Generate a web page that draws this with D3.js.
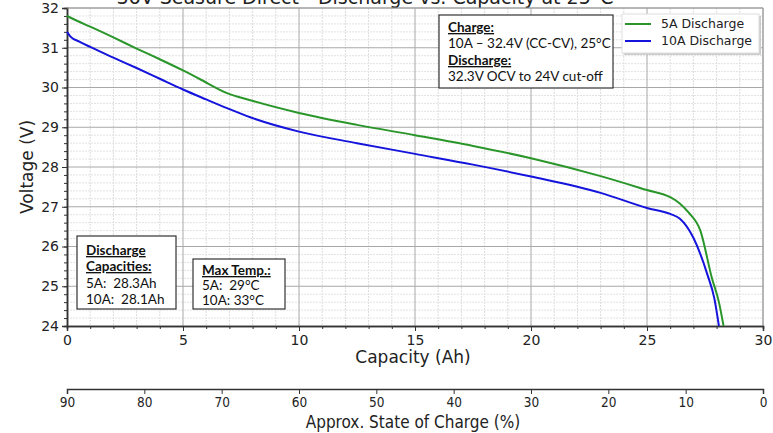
<!DOCTYPE html>
<html>
<head>
<meta charset="utf-8">
<script src="https://cdn.jsdelivr.net/npm/d3@7"></script>
<style>
body { margin:0; background:#fff; }
svg { display:block; }
</style>
</head>
<body>
<script>
// capacity (Ah) vs voltage (V)
var cap5 = [0, 0.5, 1, 2, 3, 4, 5, 5.7, 6.9, 7.9, 10, 12.5, 15, 17.5, 20, 23, 25, 26, 26.4, 26.8, 27.3, 27.8, 28.1, 28.3];
var volt5 = [31.8, 31.66, 31.53, 31.26, 30.98, 30.71, 30.43, 30.22, 29.86, 29.68, 29.36, 29.06, 28.8, 28.53, 28.22, 27.77, 27.42, 27.24, 27.09, 26.85, 26.4, 25.2, 24.6, 24.0];
var cap10 = [0, 0.15, 0.55, 1, 2, 3, 4, 5, 6, 6.9, 7.9, 10, 12.5, 15, 17.5, 20, 23, 25, 26, 26.42, 27.0, 27.6, 27.9, 28.1];
var volt10 = [31.4, 31.28, 31.15, 31.02, 30.75, 30.49, 30.22, 29.95, 29.7, 29.48, 29.25, 28.89, 28.6, 28.33, 28.06, 27.76, 27.35, 26.97, 26.82, 26.7, 26.22, 25.3, 24.7, 24.0];
var seriesNames = ['5A Discharge', '10A Discharge'];
var seriesColors = ['#2a962a', '#1414dc'];
var capTicks = [0, 5, 10, 15, 20, 25, 30];
var voltTicks = [24, 25, 26, 27, 28, 29, 30, 31, 32];
var socTicks = [90, 80, 70, 60, 50, 40, 30, 20, 10, 0];

var W = 773, H = 433;
var pLeft = 67, pRight = 763, pTop = 8, pBottom = 326;

var svg = d3.select("body").append("svg").attr("width", W).attr("height", H);

var x = d3.scaleLinear().domain([0, 30]).range([pLeft, pRight]);
var y = d3.scaleLinear().domain([24, 32]).range([pBottom, pTop]);
var soc = d3.scaleLinear().domain([90, 0]).range([pLeft, pRight]);

// minor grid
svg.append("g").selectAll("line")
    .data(d3.range(1, 30).filter(function(d){ return d % 5 != 0; }))
    .enter().append("line")
        .attr("x1", function(d){ return x(d); }).attr("x2", function(d){ return x(d); })
        .attr("y1", pTop).attr("y2", pBottom)
        .attr("stroke", "#dcdcdc").attr("stroke-width", 1).attr("stroke-dasharray", "2,1");
svg.append("g").selectAll("line")
    .data(d3.range(24.2, 32, 0.2).filter(function(d){ return Math.abs(d - Math.round(d)) > 0.01; }))
    .enter().append("line")
        .attr("x1", pLeft).attr("x2", pRight)
        .attr("y1", function(d){ return y(d); }).attr("y2", function(d){ return y(d); })
        .attr("stroke", "#e2e2e2").attr("stroke-width", 1).attr("stroke-dasharray", "2,1");

// major grid
svg.append("g").selectAll("line")
    .data(capTicks.slice(1))
    .enter().append("line")
        .attr("x1", function(d){ return x(d); }).attr("x2", function(d){ return x(d); })
        .attr("y1", pTop).attr("y2", pBottom)
        .attr("stroke", "#a8a8a8").attr("stroke-width", 1);
svg.append("g").selectAll("line")
    .data(voltTicks.slice(1))
    .enter().append("line")
        .attr("x1", pLeft).attr("x2", pRight)
        .attr("y1", function(d){ return y(d); }).attr("y2", function(d){ return y(d); })
        .attr("stroke", "#a8a8a8").attr("stroke-width", 1);

// title (cut off at the top, as in the source)
svg.append("text")
    .attr("x", 365).attr("y", 4)
    .attr("text-anchor", "middle")
    .attr("font-family", "DejaVu Sans").attr("font-size", 19).attr("fill", "#222")
    .text("36V Seasure Direct - Discharge vs. Capacity at 25°C");

// axes
var xAxis = d3.axisBottom(x).tickValues(capTicks).tickSize(5).tickPadding(4);
var xMinor = d3.axisBottom(x).tickValues(d3.range(0, 31)).tickSize(3).tickFormat("");
var yAxis = d3.axisLeft(y).tickValues(voltTicks).tickSize(5).tickPadding(3);
var yMinor = d3.axisLeft(y).tickValues(d3.range(24, 32.01, 0.2)).tickSize(3).tickFormat("");

svg.append("g").attr("transform", "translate(0," + pBottom + ")").call(xMinor);
svg.append("g").attr("class", "xaxis").attr("transform", "translate(0," + pBottom + ")").call(xAxis);
svg.append("g").attr("transform", "translate(" + pLeft + ",0)").call(yMinor);
svg.append("g").attr("class", "yaxis").attr("transform", "translate(" + pLeft + ",0)").call(yAxis);

svg.selectAll(".domain").attr("stroke", "#333").attr("stroke-width", 1.5);
svg.selectAll(".tick line").attr("stroke", "#333");
svg.selectAll(".xaxis text, .yaxis text")
    .attr("font-family", "DejaVu Sans").attr("font-size", 14).attr("fill", "#222");

// top and right frame
svg.append("line").attr("x1", pLeft).attr("x2", pRight).attr("y1", pTop).attr("y2", pTop)
    .attr("stroke", "#999");
svg.append("line").attr("x1", pRight).attr("x2", pRight).attr("y1", pTop).attr("y2", pBottom)
    .attr("stroke", "#999");

// curves
var line = d3.line()
    .x(function(d){ return x(d[0]); })
    .y(function(d){ return y(d[1]); })
    .curve(d3.curveMonotoneX);

var series = [d3.zip(cap5, volt5), d3.zip(cap10, volt10)];
svg.selectAll("path.curve")
    .data(series)
    .enter().append("path")
        .attr("class", "curve")
        .attr("d", line)
        .attr("fill", "none")
        .attr("stroke", function(d, i){ return seriesColors[i]; })
        .attr("stroke-width", 2);

// axis titles
svg.append("text")
    .attr("x", 413).attr("y", 363)
    .attr("text-anchor", "middle")
    .attr("font-family", "DejaVu Sans").attr("font-size", 17).attr("fill", "#222")
    .text("Capacity (Ah)");
svg.append("text")
    .attr("transform", "translate(33,167) rotate(-90)")
    .attr("text-anchor", "middle")
    .attr("font-family", "DejaVu Sans").attr("font-size", 17).attr("fill", "#222")
    .text("Voltage (V)");

// state of charge axis
var socAxis = d3.axisBottom(soc).tickValues(socTicks).tickSize(5).tickPadding(3);
var sg = svg.append("g").attr("transform", "translate(0,389)").call(socAxis);
sg.select(".domain").attr("stroke", "#333").attr("stroke-width", 1.5);
sg.selectAll(".tick line").attr("stroke", "#333");
sg.selectAll("text").attr("font-family", "DejaVu Sans Condensed").attr("font-size", 13.5).attr("fill", "#222");
svg.append("text")
    .attr("x", 413).attr("y", 428)
    .attr("text-anchor", "middle")
    .attr("font-family", "DejaVu Sans Condensed").attr("font-size", 17).attr("fill", "#222")
    .text("Approx. State of Charge (%)");

// legend
var lg = svg.append("g");
lg.append("rect").attr("x", 624).attr("y", 16).attr("width", 137).attr("height", 39)
    .attr("fill", "#ccc");
lg.append("rect").attr("x", 622).attr("y", 14).attr("width", 137).attr("height", 39)
    .attr("fill", "#fff").attr("stroke", "#ddd");
seriesNames.forEach(function(name, i){
    lg.append("line").attr("x1", 625).attr("x2", 651)
        .attr("y1", 24 + i * 17).attr("y2", 24 + i * 17)
        .attr("stroke", seriesColors[i]).attr("stroke-width", 2);
    lg.append("text").attr("x", 661).attr("y", 28 + i * 17)
        .attr("font-family", "DejaVu Sans").attr("font-size", 12.5).attr("fill", "#222")
        .text(name);
});

// note boxes
function noteBox(bx, by, bw, bh, lines) {
    var g = svg.append("g");
    g.append("rect").attr("x", bx).attr("y", by).attr("width", bw).attr("height", bh)
        .attr("fill", "#fff").attr("stroke", "#333").attr("stroke-width", 1.2);
    lines.forEach(function(l){
        g.append("text").attr("x", l.x).attr("y", l.y)
            .attr("font-family", "Lato").attr("font-size", 13.5).attr("fill", "#111")
            .attr("font-weight", l.bold ? "bold" : "normal")
            .attr("text-decoration", l.bold ? "underline" : "none")
            .style("white-space", "pre")
            .text(l.t);
    });
}
noteBox(439, 15, 174, 73, [
    {x: 448, y: 32, t: "Charge:", bold: true},
    {x: 448, y: 48, t: "10A \u2013 32.4V (CC-CV), 25°C"},
    {x: 448, y: 65, t: "Discharge:", bold: true},
    {x: 448, y: 81, t: "32.3V OCV to 24V cut-off"}
]);
noteBox(77, 236, 99, 73, [
    {x: 86, y: 255, t: "Discharge", bold: true},
    {x: 86, y: 271, t: "Capacities:", bold: true},
    {x: 86, y: 288, t: "5A:  28.3Ah"},
    {x: 86, y: 304, t: "10A:  28.1Ah"}
]);
noteBox(193, 259, 92, 50, [
    {x: 202, y: 275, t: "Max Temp.:", bold: true},
    {x: 202, y: 290, t: "5A:  29°C"},
    {x: 202, y: 305, t: "10A: 33°C"}
]);
</script>
</body>
</html>
